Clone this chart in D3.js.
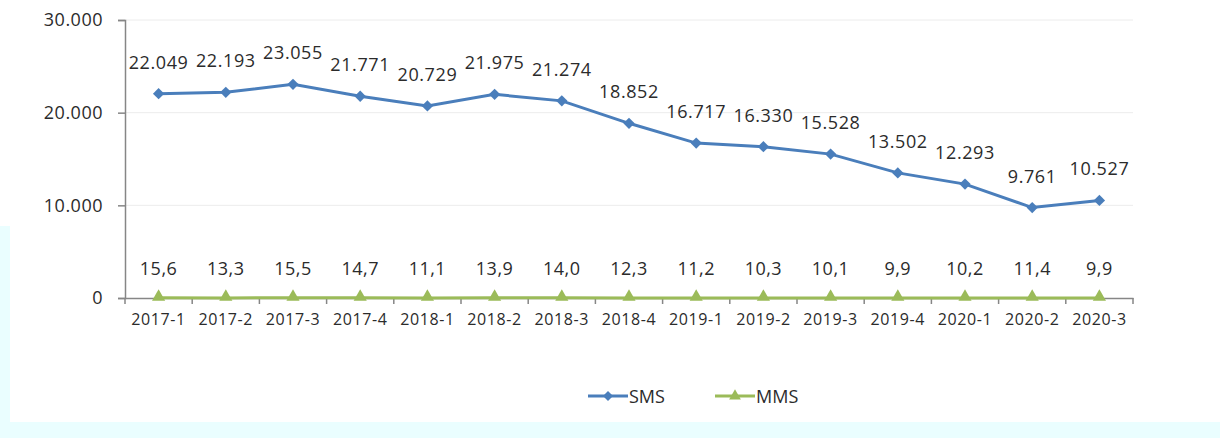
<!DOCTYPE html>
<html>
<head>
<meta charset="utf-8">
<script src="https://cdn.jsdelivr.net/npm/d3@7"></script>
<style>
  body { margin: 0; background: #fff; }
  text { font-family: "Open Sans", "Liberation Sans", sans-serif; fill: #2b2b2b; }
</style>
</head>
<body>
<div id="chart"></div>
<script>
// data
var quarters = ["2017-1","2017-2","2017-3","2017-4","2018-1","2018-2","2018-3","2018-4",
                "2019-1","2019-2","2019-3","2019-4","2020-1","2020-2","2020-3"];
var sms = [22049, 22193, 23055, 21771, 20729, 21975, 21274, 18852, 16717, 16330, 15528, 13502, 12293, 9761, 10527];
var mms = [15.6, 13.3, 15.5, 14.7, 11.1, 13.9, 14.0, 12.3, 11.2, 10.3, 10.1, 9.9, 10.2, 11.4, 9.9];
var yTicks = [0, 10000, 20000, 30000];

var W = 1220, H = 438;
var margin = {top: 20, right: 87, bottom: 140, left: 125},
    width = W - margin.left - margin.right,
    height = H - margin.top - margin.bottom;

var fmtInt = function(v) { return d3.format(",")(v).replace(/,/g, "."); };
var fmtDec = function(v) { return v.toFixed(1).replace(".", ","); };

var svg = d3.select("#chart").append("svg")
  .attr("width", W).attr("height", H);

// faint cyan edges of the scanned picture
svg.append("rect").attr("x", 0).attr("y", 226).attr("width", 10).attr("height", H - 226).attr("fill", "#eafeff");
svg.append("rect").attr("x", 0).attr("y", 422).attr("width", W).attr("height", H - 422).attr("fill", "#eafeff");

var g = svg.append("g").attr("transform", "translate(" + margin.left + "," + margin.top + ")");

var x = d3.scaleBand().domain(quarters).range([0, width]);
var y = d3.scaleLinear().domain([0, 30000]).range([height, 0]);

// gridlines
g.append("g").selectAll("line").data(yTicks.slice(1)).join("line")
  .attr("x1", 0).attr("x2", width)
  .attr("y1", function(d) { return y(d); }).attr("y2", function(d) { return y(d); })
  .attr("stroke", "#ececec").attr("stroke-width", 1);

// Y axis
var yAxis = g.append("g")
  .call(d3.axisLeft(y).tickValues(yTicks).tickFormat(fmtInt).tickSize(7).tickPadding(15));
yAxis.select(".domain").attr("stroke", "#868686").attr("stroke-width", 1.5);
yAxis.selectAll(".tick line").attr("stroke", "#868686").attr("stroke-width", 1.5);
yAxis.selectAll("text").style("font-size", "18px").attr("letter-spacing", "0.5px").attr("fill", "#2b2b2b");

// X axis, ticks sit between categories
var xAxis = g.append("g").attr("transform", "translate(0," + height + ")")
  .call(d3.axisBottom(x).tickSize(0).tickPadding(16));
xAxis.select(".domain").attr("stroke", "#868686").attr("stroke-width", 1.5);
xAxis.selectAll("text").style("font-size", "16px").attr("letter-spacing", "0.6px").attr("fill", "#2b2b2b");
xAxis.append("g").selectAll("line").data(d3.range(quarters.length + 1)).join("line")
  .attr("x1", function(i) { return i * x.bandwidth(); }).attr("x2", function(i) { return i * x.bandwidth(); })
  .attr("y1", 0).attr("y2", 6).attr("stroke", "#868686").attr("stroke-width", 1.5);

var cx = function(d, i) { return x(quarters[i]) + x.bandwidth() / 2; };

// MMS
g.append("path").datum(mms)
  .attr("fill", "none").attr("stroke", "#9bbb59").attr("stroke-width", 3)
  .attr("d", d3.line().x(cx).y(function(d) { return y(d); }));
g.append("g").selectAll("path").data(mms).join("path")
  .attr("d", d3.symbol(d3.symbolTriangle, 75))
  .attr("transform", function(d, i) { return "translate(" + cx(d, i) + "," + (y(d) - 1) + ")"; })
  .attr("fill", "#9bbb59");
g.append("g").selectAll("text").data(mms).join("text")
  .attr("x", cx).attr("y", function(d) { return y(d) - 23; })
  .attr("text-anchor", "middle").style("font-size", "18px").attr("letter-spacing", "0.5px")
  .text(fmtDec);

// SMS
g.append("path").datum(sms)
  .attr("fill", "none").attr("stroke", "#4a7ebb").attr("stroke-width", 3)
  .attr("d", d3.line().x(cx).y(function(d) { return y(d); }));
g.append("g").selectAll("path").data(sms).join("path")
  .attr("d", d3.symbol(d3.symbolSquare, 64))
  .attr("transform", function(d, i) { return "translate(" + cx(d, i) + "," + y(d) + ") rotate(45)"; })
  .attr("fill", "#4a7ebb");
g.append("g").selectAll("text").data(sms).join("text")
  .attr("x", cx).attr("y", function(d) { return y(d) - 25; })
  .attr("text-anchor", "middle").style("font-size", "18px").attr("letter-spacing", "0.6px")
  .text(fmtInt);

// legend
var legend = [{name: "SMS", color: "#4a7ebb", sym: d3.symbolSquare, size: 50, rot: 45, x: 588},
              {name: "MMS", color: "#9bbb59", sym: d3.symbolTriangle, size: 60, rot: 0, x: 715}];
var lg = svg.append("g").selectAll("g").data(legend).join("g")
  .attr("transform", function(d) { return "translate(" + d.x + ",396)"; });
lg.append("line").attr("x1", 0).attr("x2", 40).attr("y1", 0).attr("y2", 0)
  .attr("stroke", function(d) { return d.color; }).attr("stroke-width", 3);
lg.append("path").attr("d", function(d) { return d3.symbol(d.sym, d.size)(); })
  .attr("transform", function(d) { return "translate(20,0) rotate(" + d.rot + ")"; })
  .attr("fill", function(d) { return d.color; });
lg.append("text").attr("x", 41).attr("y", 6.5).style("font-size", "18px")
  .text(function(d) { return d.name; });
</script>
</body>
</html>
